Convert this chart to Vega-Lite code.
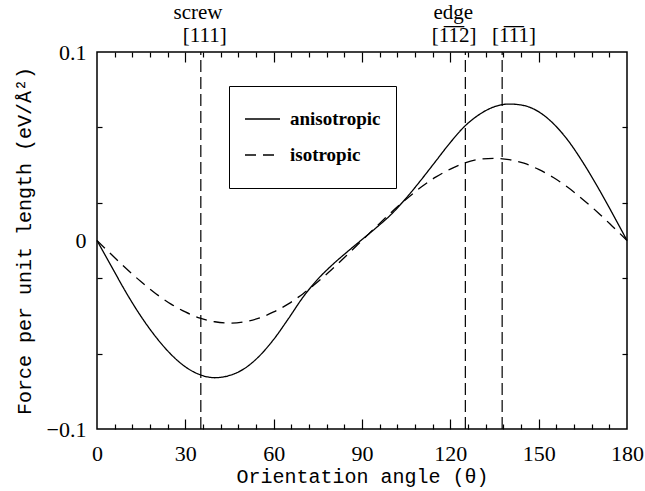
{
  "$schema": "https://vega.github.io/schema/vega-lite/v6.json",
  "autosize": {"type": "none"},
  "width": 530,
  "height": 377,
  "padding": {"left": 97, "top": 52, "right": 18, "bottom": 62},
  "background": "white",
  "config": {
    "view": {"stroke": "black", "strokeWidth": 1.5},
    "axis": {"grid": false, "domain": false, "tickColor": "black", "labelColor": "black", "titleColor": "black", "labelFont": "Liberation Serif", "labelFontSize": 22, "titleFont": "Liberation Mono", "titleFontSize": 20, "titleFontWeight": "normal", "labelOverlap": false, "labelFlush": false, "tickWidth": 1.2}
  },
  "datasets": {
    "curves": [
      {"theta": 0, "force": 0, "model": "anisotropic"},
      {"theta": 5, "force": -0.014, "model": "anisotropic"},
      {"theta": 10, "force": -0.0279, "model": "anisotropic"},
      {"theta": 15, "force": -0.0404, "model": "anisotropic"},
      {"theta": 20, "force": -0.0512, "model": "anisotropic"},
      {"theta": 25, "force": -0.0602, "model": "anisotropic"},
      {"theta": 30, "force": -0.067, "model": "anisotropic"},
      {"theta": 35, "force": -0.0712, "model": "anisotropic"},
      {"theta": 40, "force": -0.0728, "model": "anisotropic"},
      {"theta": 45, "force": -0.0716, "model": "anisotropic"},
      {"theta": 50, "force": -0.068, "model": "anisotropic"},
      {"theta": 55, "force": -0.0615, "model": "anisotropic"},
      {"theta": 60, "force": -0.0525, "model": "anisotropic"},
      {"theta": 65, "force": -0.0415, "model": "anisotropic"},
      {"theta": 70, "force": -0.03, "model": "anisotropic"},
      {"theta": 75, "force": -0.0205, "model": "anisotropic"},
      {"theta": 80, "force": -0.0128, "model": "anisotropic"},
      {"theta": 85, "force": -0.006, "model": "anisotropic"},
      {"theta": 90, "force": 0.0005, "model": "anisotropic"},
      {"theta": 95, "force": 0.007, "model": "anisotropic"},
      {"theta": 100, "force": 0.014, "model": "anisotropic"},
      {"theta": 105, "force": 0.0225, "model": "anisotropic"},
      {"theta": 110, "force": 0.032, "model": "anisotropic"},
      {"theta": 115, "force": 0.042, "model": "anisotropic"},
      {"theta": 120, "force": 0.052, "model": "anisotropic"},
      {"theta": 125, "force": 0.0608, "model": "anisotropic"},
      {"theta": 130, "force": 0.067, "model": "anisotropic"},
      {"theta": 135, "force": 0.071, "model": "anisotropic"},
      {"theta": 140, "force": 0.0724, "model": "anisotropic"},
      {"theta": 145, "force": 0.0716, "model": "anisotropic"},
      {"theta": 150, "force": 0.0683, "model": "anisotropic"},
      {"theta": 155, "force": 0.062, "model": "anisotropic"},
      {"theta": 160, "force": 0.053, "model": "anisotropic"},
      {"theta": 165, "force": 0.0415, "model": "anisotropic"},
      {"theta": 170, "force": 0.0285, "model": "anisotropic"},
      {"theta": 175, "force": 0.0145, "model": "anisotropic"},
      {"theta": 180, "force": 0, "model": "anisotropic"},
      {"theta": 0, "force": 0, "model": "isotropic"},
      {"theta": 5, "force": -0.0076, "model": "isotropic"},
      {"theta": 10, "force": -0.015, "model": "isotropic"},
      {"theta": 15, "force": -0.0219, "model": "isotropic"},
      {"theta": 20, "force": -0.0282, "model": "isotropic"},
      {"theta": 25, "force": -0.0336, "model": "isotropic"},
      {"theta": 30, "force": -0.0379, "model": "isotropic"},
      {"theta": 35, "force": -0.0412, "model": "isotropic"},
      {"theta": 40, "force": -0.0431, "model": "isotropic"},
      {"theta": 45, "force": -0.0438, "model": "isotropic"},
      {"theta": 50, "force": -0.0431, "model": "isotropic"},
      {"theta": 55, "force": -0.0412, "model": "isotropic"},
      {"theta": 60, "force": -0.0379, "model": "isotropic"},
      {"theta": 65, "force": -0.0336, "model": "isotropic"},
      {"theta": 70, "force": -0.0282, "model": "isotropic"},
      {"theta": 75, "force": -0.0219, "model": "isotropic"},
      {"theta": 80, "force": -0.015, "model": "isotropic"},
      {"theta": 85, "force": -0.0076, "model": "isotropic"},
      {"theta": 90, "force": 0, "model": "isotropic"},
      {"theta": 95, "force": 0.0076, "model": "isotropic"},
      {"theta": 100, "force": 0.015, "model": "isotropic"},
      {"theta": 105, "force": 0.0219, "model": "isotropic"},
      {"theta": 110, "force": 0.0282, "model": "isotropic"},
      {"theta": 115, "force": 0.0336, "model": "isotropic"},
      {"theta": 120, "force": 0.0379, "model": "isotropic"},
      {"theta": 125, "force": 0.0412, "model": "isotropic"},
      {"theta": 130, "force": 0.0431, "model": "isotropic"},
      {"theta": 135, "force": 0.0436, "model": "isotropic"},
      {"theta": 140, "force": 0.0429, "model": "isotropic"},
      {"theta": 145, "force": 0.041, "model": "isotropic"},
      {"theta": 150, "force": 0.0377, "model": "isotropic"},
      {"theta": 155, "force": 0.0334, "model": "isotropic"},
      {"theta": 160, "force": 0.0281, "model": "isotropic"},
      {"theta": 165, "force": 0.0218, "model": "isotropic"},
      {"theta": 170, "force": 0.015, "model": "isotropic"},
      {"theta": 175, "force": 0.0076, "model": "isotropic"},
      {"theta": 180, "force": 0, "model": "isotropic"}
    ],
    "vlines": [
      {"theta": 35.26, "orientation": "screw [111]"},
      {"theta": 125.1, "orientation": "edge [-1-12]"},
      {"theta": 137.6, "orientation": "[-1-11]"}
    ],
    "labels": [
      {"theta": 34.3, "force": 0.1205, "text": "screw"},
      {"theta": 36.6, "force": 0.1085, "text": "[111]"},
      {"theta": 121.0, "force": 0.1205, "text": "edge"},
      {"theta": 121.3, "force": 0.1085, "text": "[1̅1̅2]"},
      {"theta": 141.6, "force": 0.1085, "text": "[1̅1̅1]"}
    ]
  },
  "layer": [
    {
      "data": {"name": "curves"},
      "mark": {"type": "line", "color": "black", "strokeWidth": 1.3, "interpolate": "monotone"},
      "encoding": {
        "x": {
          "field": "theta", "type": "quantitative",
          "scale": {"domain": [0, 180], "nice": false, "zero": false},
          "axis": {
            "orient": "bottom",
            "values": [0, 30, 60, 90, 120, 150, 180],
            "ticks": false,
            "labelPadding": 14,
            "title": "Orientation angle (θ)",
            "titlePadding": 2
          }
        },
        "y": {
          "field": "force", "type": "quantitative",
          "scale": {"domain": [-0.1, 0.1], "nice": false, "zero": false},
          "axis": {
            "orient": "left",
            "values": [-0.1, 0, 0.1],
            "labelExpr": "datum.value > 0.09 ? '0.1' : (datum.value < -0.09 ? '−0.1' : '0')",
            "ticks": false,
            "labelPadding": 11,
            "title": "Force per unit length (eV/Å²)",
            "titlePadding": 12
          }
        },
        "strokeDash": {
          "field": "model", "type": "nominal",
          "scale": {"domain": ["anisotropic", "isotropic"], "range": [[1, 0], [11, 7]]},
          "legend": {
            "orient": "none", "legendX": 132, "legendY": 34,
            "title": null,
            "strokeColor": "black", "fillColor": "white",
            "padding": 15,
            "symbolType": "stroke", "symbolSize": 1225, "symbolStrokeColor": "black", "symbolStrokeWidth": 1.3,
            "labelFont": "Liberation Serif", "labelFontSize": 19, "labelFontWeight": "bold", "labelColor": "black",
            "labelOffset": 9, "rowPadding": 0, "clipHeight": 36
          }
        }
      }
    },
    {
      "data": {"name": "vlines"},
      "mark": {"type": "rule", "color": "black", "strokeWidth": 1.2, "strokeDash": [12, 5]},
      "encoding": {
        "x": {
          "field": "theta", "type": "quantitative",
          "scale": {"domain": [0, 180], "nice": false, "zero": false},
          "axis": {
            "orient": "top", "offset": -377,
            "values": [6,12,18,24,30,36,42,48,54,60,66,72,78,84,90,96,102,108,114,120,126,132,138,144,150,156,162,168,174],
            "labels": false,
            "tickSize": {"condition": {"test": "datum.value % 30 === 0", "value": 10}, "value": 5},
            "title": null
          }
        },
        "y": {
          "datum": -0.1, "type": "quantitative",
          "scale": {"domain": [-0.1, 0.1], "nice": false, "zero": false},
          "axis": {
            "orient": "right", "offset": -530,
            "values": [-0.06, -0.02, 0.02, 0.06],
            "labels": false, "tickSize": 5, "title": null
          }
        },
        "y2": {"datum": 0.1}
      }
    },
    {
      "data": {"name": "labels"},
      "mark": {"type": "text", "font": "Liberation Serif", "fontSize": 21, "color": "black", "baseline": "middle", "align": "center"},
      "encoding": {
        "x": {
          "field": "theta", "type": "quantitative",
          "scale": {"domain": [0, 180], "nice": false, "zero": false},
          "axis": {
            "orient": "bottom", "offset": -377,
            "values": [6,12,18,24,30,36,42,48,54,60,66,72,78,84,90,96,102,108,114,120,126,132,138,144,150,156,162,168,174],
            "labels": false,
            "tickSize": {"condition": {"test": "datum.value % 30 === 0", "value": 10}, "value": 5},
            "title": null
          }
        },
        "y": {
          "field": "force", "type": "quantitative",
          "scale": {"domain": [-0.1, 0.1], "nice": false, "zero": false},
          "axis": {
            "orient": "left", "offset": -530,
            "values": [-0.06, -0.02, 0.02, 0.06],
            "labels": false, "tickSize": 5, "title": null
          }
        },
        "text": {"field": "text", "type": "nominal"}
      }
    }
  ],
  "resolve": {"axis": {"x": "independent", "y": "independent"}}
}
